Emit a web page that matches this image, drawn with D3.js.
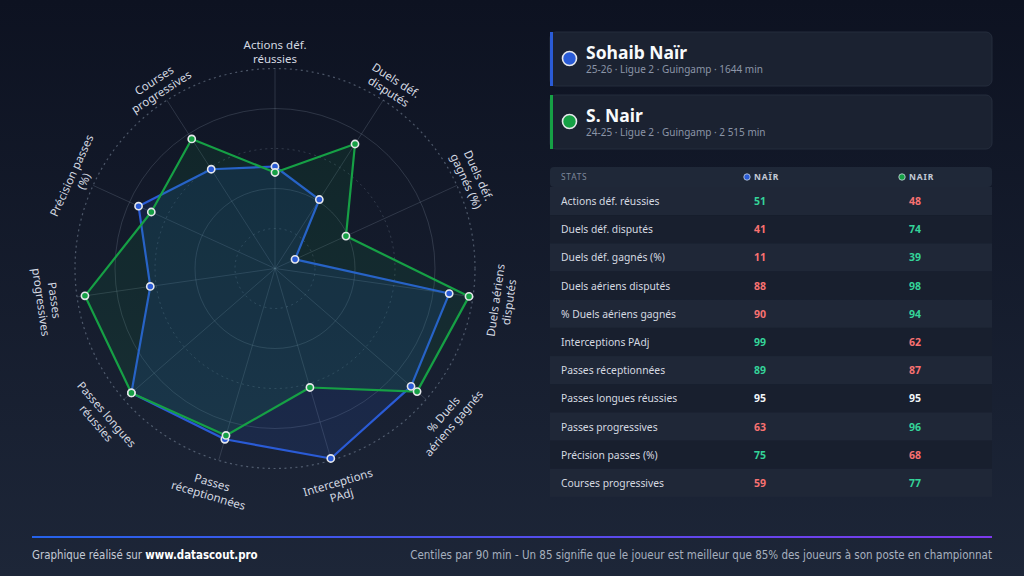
<!DOCTYPE html>
<html>
<head>
<meta charset="utf-8">
<script src="https://cdn.jsdelivr.net/npm/d3@7"></script>
<style>
  html, body { margin: 0; padding: 0; background: #0e1322; }
  svg { display: block; font-family: "Noto Sans", "Open Sans", sans-serif; }
</style>
</head>
<body>
<svg id="chart" width="1024" height="576"></svg>
<script>
// Radar comparison - Naïr 25-26 vs Nair 24-25

// Axis labels on the radar (split on "|")
const radarLabels = [
  "Actions déf.|réussies", "Duels déf.|disputés", "Duels déf.|gagnés (%)",
  "Duels aériens|disputés", "% Duels|aériens gagnés", "Interceptions|PAdj",
  "Passes|réceptionnées", "Passes longues|réussies", "Passes|progressives",
  "Précision passes|(%)", "Courses|progressives"
];
// Stat names in the table
const statNames = radarLabels.map(l => l.replace("|", " "));

// Centiles
const nairValues = [51, 41, 11, 88, 90, 99, 89, 95, 63, 75, 59];
const nair2Values = [48, 74, 39, 98, 94, 62, 87, 95, 96, 68, 77];

const players = [
  { name: "Sohaib Naïr", short: "NAÏR", sub: "25-26 · Ligue 2 · Guingamp · 1644 min", color: "#2a5bd6", values: nairValues },
  { name: "S. Nair", short: "NAIR", sub: "24-25 · Ligue 2 · Guingamp · 2 515 min", color: "#16a045", values: nair2Values }
];

const ringTicks = [20, 40, 60, 80, 100];

const svg = d3.select("#chart");
const W = 1024, H = 576;

// Background
const defs = svg.append("defs");
const bg = defs.append("linearGradient").attr("id", "bg").attr("x1", 0).attr("y1", 0).attr("x2", 0).attr("y2", 1);
bg.append("stop").attr("offset", "0%").attr("stop-color", "#0d1221");
bg.append("stop").attr("offset", "100%").attr("stop-color", "#1d2638");
svg.append("rect").attr("width", W).attr("height", H).attr("fill", "url(#bg)");

// ---------- Radar ----------
const cx = 275, cy = 268.5;
const rScale = d3.scaleLinear().domain([0, 100]).range([0, 200]);
const aScale = d3.scaleLinear().domain([0, radarLabels.length]).range([0, 2 * Math.PI]);

const radar = svg.append("g").attr("transform", `translate(${cx},${cy})`);

// Rings
radar.append("g").selectAll("circle")
  .data(ringTicks)
  .enter()
  .append("circle")
  .attr("r", d => rScale(d))
  .attr("fill", "none")
  .attr("stroke", "#94a3b8")
  .attr("stroke-opacity", d => d === 100 ? 0.45 : (d % 40 === 0 ? 0.22 : 0.25))
  .attr("stroke-width", d => d === 100 ? 1.2 : 1)
  .attr("stroke-dasharray", d => d % 40 === 0 ? null : "2,3.5");

// Spokes
radar.append("g").selectAll("line")
  .data(radarLabels)
  .enter()
  .append("line")
  .attr("x1", 0).attr("y1", 0)
  .attr("x2", (d, i) => d3.pointRadial(aScale(i), rScale(100))[0])
  .attr("y2", (d, i) => d3.pointRadial(aScale(i), rScale(100))[1])
  .attr("stroke", "#94a3b8")
  .attr("stroke-opacity", 0.22)
  .attr("stroke-width", 1);

const radial = d3.lineRadial()
  .angle((d, i) => aScale(i))
  .radius(d => rScale(d))
  .curve(d3.curveLinearClosed);

// Areas + lines
players.forEach((p, k) => {
  radar.append("path")
    .datum(p.values)
    .attr("d", radial)
    .attr("fill", p.color)
    .attr("fill-opacity", k === 0 ? 0.14 : 0.11)
    .attr("stroke", p.color)
    .attr("stroke-width", 2.2)
    .attr("stroke-linejoin", "round");
});

// Points
players.forEach(p => {
  radar.append("g").selectAll("circle")
    .data(p.values)
    .enter()
    .append("circle")
    .attr("cx", (d, i) => d3.pointRadial(aScale(i), rScale(d))[0])
    .attr("cy", (d, i) => d3.pointRadial(aScale(i), rScale(d))[1])
    .attr("r", 3.6)
    .attr("fill", p.color)
    .attr("stroke", "#e5e7eb")
    .attr("stroke-width", 1.6);
});

// Axis labels, rotated along the ring
const lh = 13.5;
radarLabels.forEach((label, i) => {
  const deg = aScale(i) * 180 / Math.PI;
  const flip = deg > 90 && deg < 270;
  const lines = label.split("|");
  const rot = flip ? deg - 180 : deg;
  const [px, py] = d3.pointRadial(aScale(i), flip ? 227 : 206);
  const t = radar.append("text")
    .attr("transform", `translate(${px},${py}) rotate(${rot})`)
    .attr("text-anchor", "middle")
    .attr("fill", "#d4d9e1")
    .attr("font-size", 11.5);
  lines.forEach((ln, j) => {
    const y = flip ? j * lh : -(lines.length - 1 - j) * lh;
    t.append("tspan").attr("x", 0).attr("y", y).text(ln);
  });
});

// ---------- Player cards ----------
const cardX = 550, cardW = 442;
players.forEach((p, k) => {
  const y0 = 32 + k * 63;
  const g = svg.append("g").attr("transform", `translate(${cardX},${y0})`);
  g.append("rect").attr("width", cardW).attr("height", 54).attr("rx", 6)
    .attr("fill", "#1b2231").attr("stroke", "#252d3d").attr("stroke-width", 1);
  g.append("rect").attr("width", 3).attr("height", 54).attr("fill", p.color);
  g.append("circle").attr("cx", 19.5).attr("cy", 26.5).attr("r", 7)
    .attr("fill", p.color).attr("stroke", "#e5e7eb").attr("stroke-width", 1.6);
  g.append("text").attr("x", 36).attr("y", 27).attr("fill", "#f8fafc")
    .attr("font-size", 17.5).attr("font-weight", 700).text(p.name);
  g.append("text").attr("x", 36).attr("y", 41).attr("fill", "#8b95a7")
    .attr("font-size", 10).text(p.sub);
});

// ---------- Stats table ----------
const tX = 550, tW = 442, headY = 167, headH = 20, rowH = 28.18;
const col1 = 760, col2 = 915;
const table = svg.append("g");
table.append("rect").attr("x", tX).attr("y", headY).attr("width", tW).attr("height", headH)
  .attr("rx", 4).attr("fill", "#1f2838");
table.append("text").attr("x", 561).attr("y", headY + 12.5).attr("fill", "#7d879a")
  .attr("font-size", 8.3).attr("letter-spacing", 0.8).text("STATS");
[col1, col2].forEach((c, k) => {
  const p = players[k];
  table.append("circle").attr("cx", c - 13).attr("cy", headY + 10).attr("r", 3.2)
    .attr("fill", p.color).attr("stroke", "#cbd5e1").attr("stroke-width", 0.8);
  table.append("text").attr("x", c - 6).attr("y", headY + 13).attr("fill", "#c3cad6")
    .attr("font-size", 8.5).attr("font-weight", 700).attr("letter-spacing", 0.9).text(p.short);
});

const better = "#34d399", worse = "#f87171", same = "#f1f5f9";
const rows = table.selectAll("g.row")
  .data(statNames)
  .enter()
  .append("g")
  .attr("class", "row")
  .attr("transform", (d, i) => `translate(0,${headY + headH + i * rowH})`);
rows.append("rect").attr("x", tX).attr("width", tW).attr("height", rowH)
  .attr("fill", (d, i) => i % 2 === 0 ? "#1f2737" : "#181f2e");
rows.append("text").attr("x", 561).attr("y", rowH / 2 + 4).attr("fill", "#d5d9e0")
  .attr("font-size", 10.3).text(d => d);
rows.append("text").attr("x", col1).attr("y", rowH / 2 + 4).attr("text-anchor", "middle")
  .attr("font-size", 10.5).attr("font-weight", 700)
  .attr("fill", (d, i) => nairValues[i] > nair2Values[i] ? better : nairValues[i] < nair2Values[i] ? worse : same)
  .text((d, i) => nairValues[i]);
rows.append("text").attr("x", col2).attr("y", rowH / 2 + 4).attr("text-anchor", "middle")
  .attr("font-size", 10.5).attr("font-weight", 700)
  .attr("fill", (d, i) => nair2Values[i] > nairValues[i] ? better : nair2Values[i] < nairValues[i] ? worse : same)
  .text((d, i) => nair2Values[i]);

// ---------- Footer ----------
const fg = defs.append("linearGradient").attr("id", "foot");
fg.append("stop").attr("offset", "0%").attr("stop-color", "#2563eb");
fg.append("stop").attr("offset", "100%").attr("stop-color", "#7c3aed");
svg.append("rect").attr("x", 32).attr("y", 536).attr("width", 960).attr("height", 2).attr("fill", "url(#foot)");

const footFont = '"Liberation Sans Narrow", "DejaVu Sans Condensed", "Roboto", sans-serif';
const left = svg.append("text").attr("x", 32).attr("y", 559).attr("font-size", 11.4)
  .attr("font-family", footFont).attr("fill", "#c5cbd6");
left.append("tspan").text("Graphique réalisé sur ");
left.append("tspan").attr("font-weight", 700).attr("fill", "#ffffff").text("www.datascout.pro");
svg.append("text").attr("x", 992).attr("y", 559).attr("font-size", 11.5).attr("text-anchor", "end")
  .attr("font-family", footFont).attr("fill", "#a7b0bf")
  .text("Centiles par 90 min - Un 85 signifie que le joueur est meilleur que 85% des joueurs à son poste en championnat");
</script>
</body>
</html>
